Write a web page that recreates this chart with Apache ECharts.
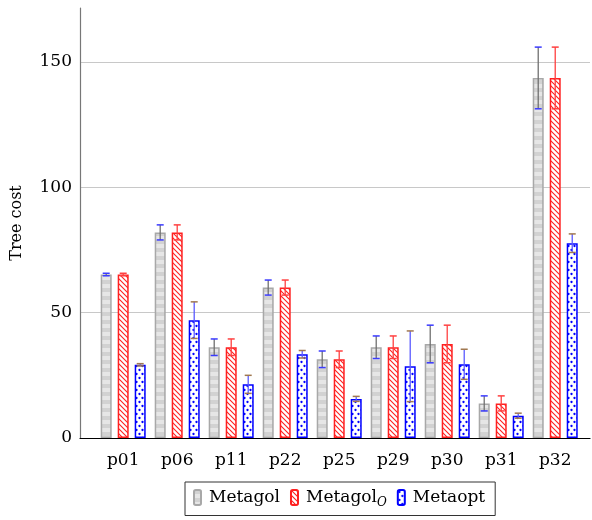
<!DOCTYPE html>
<html><head><meta charset="utf-8">
<script src="https://cdn.jsdelivr.net/npm/echarts@6/dist/echarts.min.js"></script>
<style>html,body{margin:0;padding:0;background:#fff}#c{width:592px;height:520px}</style>
</head><body><div id="c"></div><script>
const categories = ['p01','p06','p11','p22','p25','p29','p30','p31','p32'];
const metagol    = [65.2, 82.0, 36.2, 60.0, 31.4, 36.2, 37.5, 13.8, 143.6];
const metagolErr = [0.5, 3.0, 3.3, 3.0, 3.3, 4.5, 7.5, 3.0, 12.3];
const metagolO    = [65.2, 82.0, 36.2, 60.0, 31.4, 36.2, 37.5, 13.8, 143.6];
const metagolOErr = [0.5, 3.0, 3.3, 3.0, 3.3, 4.5, 7.5, 3.0, 12.3];
const metaopt    = [29.2, 47.0, 21.4, 33.4, 15.6, 28.6, 29.4, 8.9, 77.7];
const metaoptErr = [0.45, 7.3, 3.6, 1.5, 1.0, 14.1, 6.0, 1.0, 3.7];
const yTicks = [0, 50, 100, 150];

function makeCanvas(w, h, draw){ const c=document.createElement('canvas'); c.width=w; c.height=h; draw(c.getContext('2d')); return c; }
const grayPat = makeCanvas(8, 8, ctx => { ctx.fillStyle='#d2d2d2'; ctx.fillRect(0,0,8,4); ctx.fillStyle='#e6e6e6'; ctx.fillRect(0,4,8,4); });
const redPat = makeCanvas(5, 5, ctx => { ctx.fillStyle='#fff'; ctx.fillRect(0,0,5,5); ctx.strokeStyle='#ff2020'; ctx.lineWidth=1.1;
  ctx.beginPath(); ctx.moveTo(-1,-1); ctx.lineTo(6,6); ctx.moveTo(-1,4); ctx.lineTo(1,6); ctx.moveTo(4,-1); ctx.lineTo(6,1); ctx.stroke(); });
const bluePat = makeCanvas(6, 8, ctx => { ctx.fillStyle='#fff'; ctx.fillRect(0,0,6,8); ctx.fillStyle='#0000ff';
  ctx.beginPath(); ctx.arc(1.5,2,1.15,0,Math.PI*2); ctx.fill(); ctx.beginPath(); ctx.arc(4.5,6,1.15,0,Math.PI*2); ctx.fill(); });

const BW = 11, GAP = 6, STEP = BW + GAP;
function errRender(offset, lineColor, capColor){
  return function(params, api){
    const x = api.value(0), lo = api.value(1), hi = api.value(2);
    const a = api.coord([x, hi]), b = api.coord([x, lo]);
    const cx = a[0] + offset, w = 3.5;
    return {type:'group', children:[
      {type:'line', shape:{x1:cx,y1:a[1],x2:cx,y2:b[1]}, style:{stroke:lineColor, lineWidth:1.3}},
      {type:'line', shape:{x1:cx-w,y1:a[1],x2:cx+w,y2:a[1]}, style:{stroke:capColor, lineWidth:1.5}},
      {type:'line', shape:{x1:cx-w,y1:b[1],x2:cx+w,y2:b[1]}, style:{stroke:capColor, lineWidth:1.5}}
    ]};
  };
}
const pts = arr => arr.map((v,i)=>[i,v]);
const errPts = (arr, e) => arr.map((v,i)=>[i, v-e[i], v+e[i]]);

const chart = echarts.init(document.getElementById('c'), null, {renderer:'canvas'});
chart.setOption({
  animation:false,
  textStyle:{fontFamily:'DejaVu Serif', color:'#000'},
  grid:{left:80, right:2, top:8, bottom:82, outerBoundsMode:'none'},
  xAxis:{type:'value', min:-0.8, max:8.644, minInterval:1, maxInterval:1,
    axisLine:{onZero:true, lineStyle:{color:'#000', width:1.2}}, axisTick:{show:false}, splitLine:{show:false},
    axisLabel:{fontSize:17, color:'#000', margin:14, showMinLabel:false, showMaxLabel:false,
      formatter: v => (Number.isInteger(v) && categories[v]) ? categories[v] : ''}},
  yAxis:{type:'value', min:0, max:171.5, interval:50,
    name:'Tree cost', nameLocation:'middle', nameGap:55, nameTextStyle:{fontSize:16, color:'#000'},
    axisLine:{show:true, onZero:false, lineStyle:{color:'#777', width:1.2}}, axisTick:{show:false},
    axisLabel:{fontSize:17, color:'#000', margin:8, showMaxLabel:false,
      formatter: v => yTicks.includes(v) ? String(v) : ''},
    splitLine:{show:true, showMaxLine:false, showMinLine:false, lineStyle:{color:'#c8c8c8', width:1}}},
  legend:{data:['Metagol','Metagol_O','Metaopt'], left:185, top:482, orient:'horizontal',
    itemWidth:7, itemHeight:15, itemGap:10, padding:[7,10,7,8], borderColor:'#333', borderWidth:1,
    backgroundColor:'#fff', selectedMode:false,
    formatter: n => n==='Metagol_O' ? '{a|Metagol}{s|O}' : '{a|'+n+'}',
    textStyle:{fontSize:17, color:'#000', rich:{a:{fontSize:17, fontFamily:'DejaVu Serif', lineHeight:22, padding:[0,0,0,3]},
      s:{fontSize:12, fontFamily:'DejaVu Serif', fontStyle:'italic', lineHeight:22, verticalAlign:'bottom', padding:[6,0,0,0]}}}},
  series:[
    {type:'bar', name:'Metagol', data:pts(metagol), barWidth:BW, barGap:(GAP/BW*100)+'%',
      itemStyle:{color:{image:grayPat, repeat:'repeat'}, borderColor:'#a8a8a8', borderWidth:1.5}},
    {type:'bar', name:'Metagol_O', data:pts(metagolO), barWidth:BW, barGap:(GAP/BW*100)+'%',
      itemStyle:{color:{image:redPat, repeat:'repeat'}, borderColor:'#ff2020', borderWidth:1.5}},
    {type:'bar', name:'Metaopt', data:pts(metaopt), barWidth:BW, barGap:(GAP/BW*100)+'%',
      itemStyle:{color:{image:bluePat, repeat:'repeat'}, borderColor:'#0000ff', borderWidth:1.5}},
    {type:'custom', name:'errMetagol', data:errPts(metagol, metagolErr), encode:{x:0, y:[1,2]}, z:10,
      renderItem: errRender(-STEP, '#707070', '#3a3aff')},
    {type:'custom', name:'errMetagolO', data:errPts(metagolO, metagolOErr), encode:{x:0, y:[1,2]}, z:10,
      renderItem: errRender(0, '#ff4040', '#ff4040')},
    {type:'custom', name:'errMetaopt', data:errPts(metaopt, metaoptErr), encode:{x:0, y:[1,2]}, z:10,
      renderItem: errRender(STEP, '#5a5aff', '#a07850')}
  ]
});
</script></body></html>
